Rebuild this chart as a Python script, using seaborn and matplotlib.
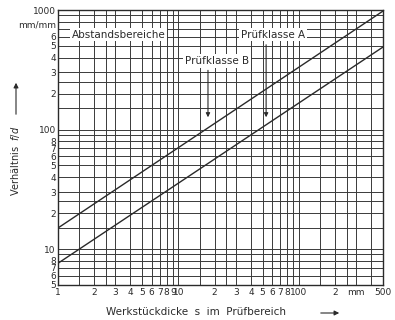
import numpy as np
import pandas as pd
import matplotlib
matplotlib.use("Agg")
import matplotlib.pyplot as plt
import seaborn as sns
from matplotlib.ticker import FixedLocator, FixedFormatter, NullFormatter

# ---- data ----
thickness_mm = [1, 500]
class_b_ratio = [15, 980]     # Prüfklasse B (upper line)
class_a_ratio = [7.6, 490]    # Prüfklasse A (lower line)

x_tick_values = [1, 2, 3, 4, 5, 6, 7, 8, 9, 10, 20, 30, 40, 50, 60, 70, 80, 100, 200, 300, 500]
x_tick_labels = ["1", "2", "3", "4", "5", "6", "7", "8", "9", "10",
                 "2", "3", "4", "5", "6", "7", "8", "100", "2", "mm", "500"]
y_tick_values = [5, 6, 7, 8, 10, 20, 30, 40, 50, 60, 70, 80, 100,
                 200, 300, 400, 500, 600, 1000]
y_tick_labels = ["5", "6", "7", "8", "10", "2", "3", "4", "5", "6", "7", "8", "100",
                 "2", "3", "4", "5", "6", "1000"]
grid_mantissas = [1, 1.5, 2, 2.5, 3, 4, 5, 6, 7, 8, 9]
decades = [1, 10, 100, 1000]

df = pd.DataFrame({
    "s": thickness_mm + thickness_mm,
    "fd": class_b_ratio + class_a_ratio,
    "klasse": ["B"] * len(thickness_mm) + ["A"] * len(thickness_mm),
})

sns.set_style("white")
plt.rcParams["font.family"] = ["DejaVu Sans"]
ink = "#2a2a2a"

fig = plt.figure(figsize=(3.95, 3.2), dpi=100)
ax = fig.add_axes([58 / 395, 1 - 285 / 320, (383 - 58) / 395, (285 - 10) / 320])

sns.lineplot(data=df, x="s", y="fd", units="klasse", estimator=None,
             color=ink, lw=1.0, ax=ax, zorder=3, legend=False)

ax.set_xscale("log")
ax.set_yscale("log")
ax.set_xlim(1, 500)
ax.set_ylim(5, 1000)

grid_vals = [m * d for d in decades for m in grid_mantissas]
ax.xaxis.set_minor_locator(FixedLocator([g for g in grid_vals if 1 <= g <= 500]))
ax.yaxis.set_minor_locator(FixedLocator([g for g in grid_vals if 5 <= g <= 1000]))
ax.xaxis.set_minor_formatter(NullFormatter())
ax.yaxis.set_minor_formatter(NullFormatter())
ax.xaxis.set_major_locator(FixedLocator(x_tick_values))
ax.xaxis.set_major_formatter(FixedFormatter(x_tick_labels))
ax.yaxis.set_major_locator(FixedLocator(y_tick_values))
ax.yaxis.set_major_formatter(FixedFormatter(y_tick_labels))
ax.tick_params(which="both", length=0, labelsize=6.5, colors=ink, pad=2)
ax.tick_params(axis="y", pad=1.5)
ax.grid(which="both", color="#3a3a3a", lw=0.7)
for sp in ax.spines.values():
    sp.set_color(ink)
    sp.set_linewidth(1.0)
ax.set_xlabel("")
ax.set_ylabel("")

# unit label on y axis
ax.text(-0.006, 750, "mm/mm", transform=ax.get_yaxis_transform(),
        ha="right", va="center", fontsize=6.5, color=ink)

box = dict(fc="white", ec="none", pad=1.2)
ax.text(3.2, 620, "Abstandsbereiche", ha="center", va="center",
        fontsize=7.5, color=ink, bbox=box, zorder=5)
ax.text(61, 620, "Prüfklasse A", ha="center", va="center",
        fontsize=7.5, color=ink, bbox=box, zorder=5)
ax.text(21, 375, "Prüfklasse B", ha="center", va="center",
        fontsize=7.5, color=ink, bbox=box, zorder=5)

arrow = dict(arrowstyle="-|>", color=ink, lw=0.8, mutation_scale=6)
ax.annotate("", xy=(17.6, 120), xytext=(17.6, 330), arrowprops=arrow, zorder=4)
ax.annotate("", xy=(53.5, 120), xytext=(53.5, 540), arrowprops=arrow, zorder=4)

# axis titles with arrows
fig.text(15 / 395, 1 - 161 / 320, "Verhältnis  $f/d$", rotation=90,
         ha="center", va="center", fontsize=7, color=ink)
fig.text(196 / 395, 1 - 312 / 320, "Werkstückdicke  s  im  Prüfbereich",
         ha="center", va="center", fontsize=7.5, color=ink)
fig.add_artist(matplotlib.patches.FancyArrowPatch(
    (16 / 395, 1 - 117 / 320), (16 / 395, 1 - 80 / 320),
    transform=fig.transFigure, arrowstyle="-|>", mutation_scale=7,
    color=ink, lw=0.8))
fig.add_artist(matplotlib.patches.FancyArrowPatch(
    (318 / 395, 1 - 313 / 320), (342 / 395, 1 - 313 / 320),
    transform=fig.transFigure, arrowstyle="-|>", mutation_scale=7,
    color=ink, lw=0.8))

fig.savefig("out.png", dpi=100, facecolor="white")
